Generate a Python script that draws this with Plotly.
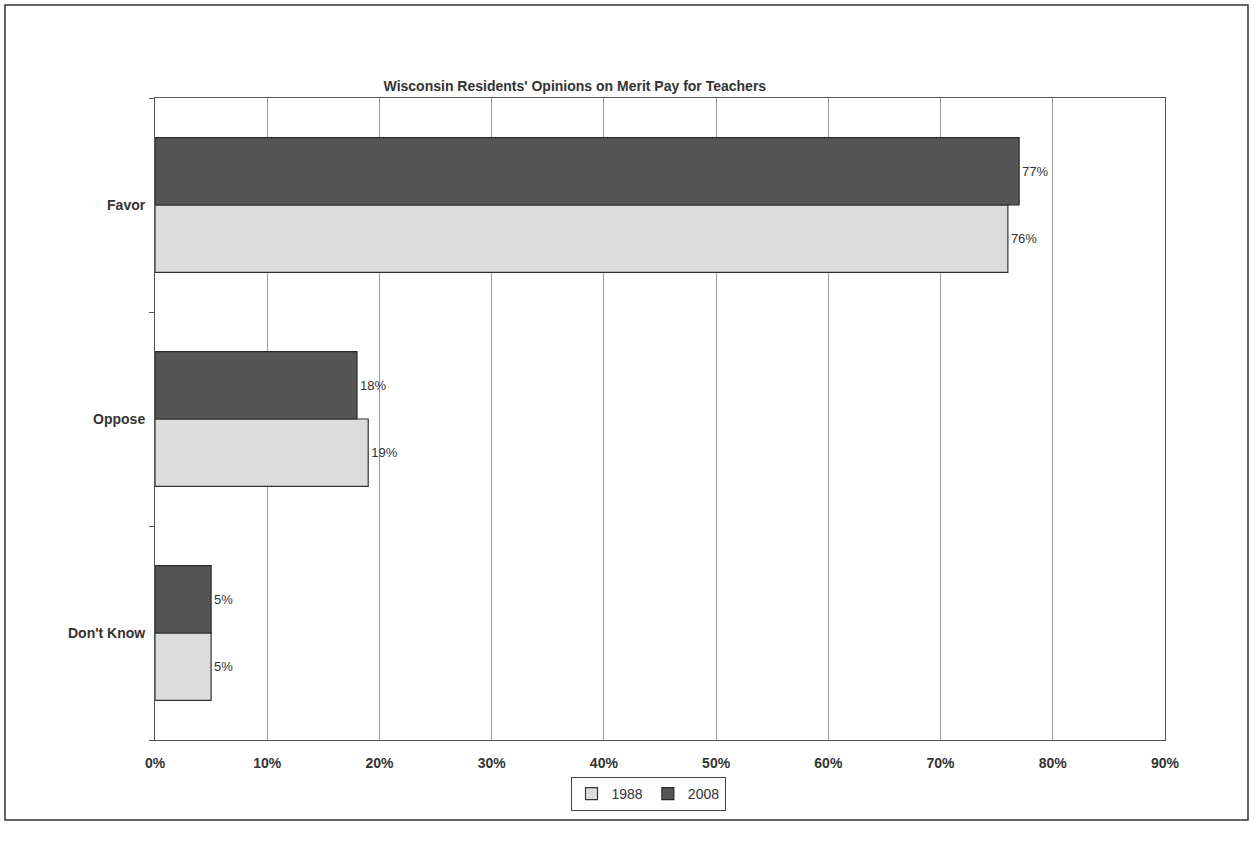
import plotly.graph_objects as go

categories = ["Don't Know", "Oppose", "Favor"]
vals_1988 = [5, 19, 76]
vals_2008 = [5, 18, 77]
labels_1988 = ["5%", "19%", "76%"]
labels_2008 = ["5%", "18%", "77%"]
tick_vals = [0, 10, 20, 30, 40, 50, 60, 70, 80, 90]
tick_text = ["0%", "10%", "20%", "30%", "40%", "50%", "60%", "70%", "80%", "90%"]

W, H = 1254, 841
L, R, T, B = 155, 89, 98, 101
pw, ph = W - L - R, H - T - B

fig = go.Figure()
fig.add_trace(go.Bar(
    y=categories, x=vals_1988, orientation="h", name="1988",
    marker=dict(color="#dcdcdc", line=dict(color="#333333", width=1.2)),
    text=labels_1988, textposition="outside", cliponaxis=False,
    textfont=dict(family="Arial, Liberation Sans", size=13, color="#333333"),
))
fig.add_trace(go.Bar(
    y=categories, x=vals_2008, orientation="h", name="2008",
    marker=dict(color="#555555", line=dict(color="#2a2a2a", width=1.2)),
    text=labels_2008, textposition="outside", cliponaxis=False,
    textfont=dict(family="Arial, Liberation Sans", size=13, color="#333333"),
))

def px_x(x):
    return (x - L) / pw

def px_y(y):
    return (H - B - y) / ph

fig.update_layout(
    width=W, height=H,
    margin=dict(l=L, r=R, t=T, b=B),
    paper_bgcolor="white", plot_bgcolor="white",
    barmode="group", bargap=0.37, bargroupgap=0.0,
    font=dict(family="Arial, Liberation Sans", color="#333333"),
    title=dict(text="<b>Wisconsin Residents' Opinions on Merit Pay for Teachers</b>",
               x=px_x(618), xanchor="center", y=1 - 86 / H, yanchor="middle",
               font=dict(size=14, color="#333333")),
    xaxis=dict(range=[0, 90], tickvals=tick_vals,
               ticktext=["<b>%s</b>" % t for t in tick_text],
               showgrid=True, gridcolor="#9a9a9a", gridwidth=1,
               showline=True, linecolor="#555555", linewidth=1, mirror=True,
               ticks="", tickfont=dict(size=14, color="#333333"),
               ticklabelstandoff=10, zeroline=False),
    yaxis=dict(showline=True, linecolor="#555555", linewidth=1, mirror=True,
               ticks="outside", tickson="boundaries", ticklen=5, tickcolor="#555555",
               tickfont=dict(size=14, color="#333333"), ticklabelstandoff=6,
               categoryorder="array", categoryarray=categories,
               tickvals=categories,
               ticktext=["<b>%s</b>" % c for c in categories]),
    legend=dict(orientation="h", x=px_x(648), xanchor="center", y=px_y(777), yanchor="top",
                bordercolor="#444444", borderwidth=1, bgcolor="white",
                font=dict(size=14, color="#333333"), traceorder="normal",
                itemwidth=30, tracegroupgap=0),
    showlegend=True,
)

fig.add_shape(type="rect", xref="paper", yref="paper",
              x0=px_x(5), x1=px_x(1248), y0=px_y(820), y1=px_y(5),
              line=dict(color="#333333", width=1.5), fillcolor="rgba(0,0,0,0)", layer="below")

fig.write_html("out.html")
